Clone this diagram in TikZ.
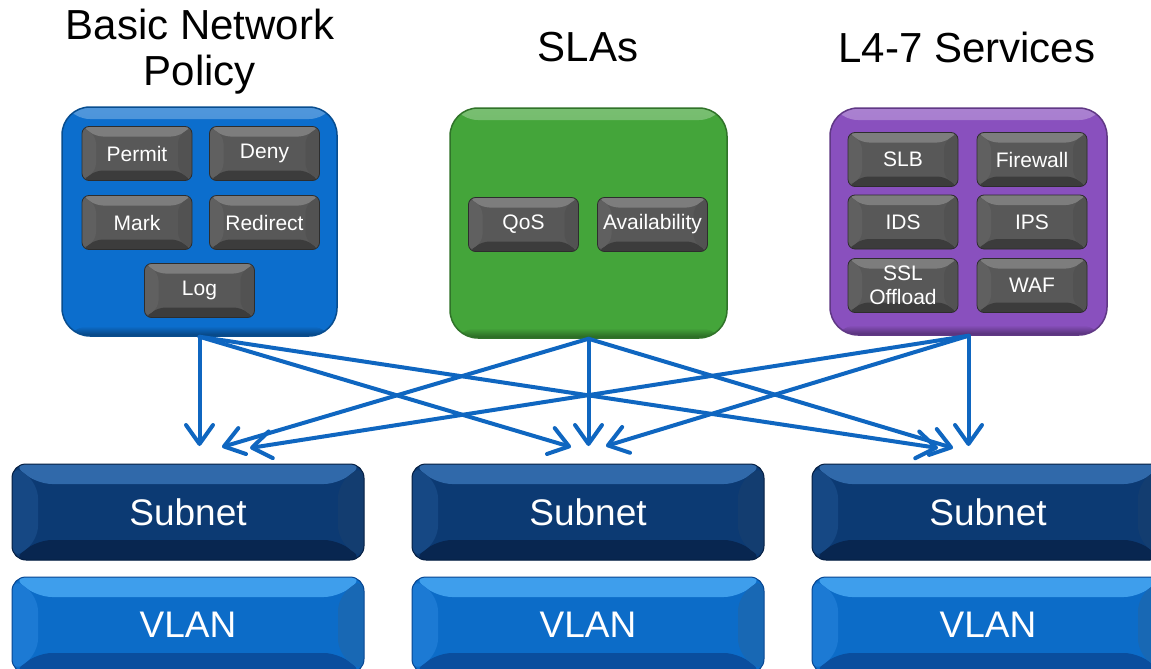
\documentclass[tikz,border=0pt]{standalone}
\usepackage{fontspec}
\setmainfont{Liberation Sans}
\usetikzlibrary{arrows.meta,calc}
\definecolor{bluebox}{RGB}{12,110,205}
\definecolor{greenbox}{RGB}{68,165,58}
\definecolor{purplebox}{RGB}{137,80,190}
\definecolor{btnface}{RGB}{88,88,88}
\definecolor{btntop}{RGB}{125,125,125}
\definecolor{btnbot}{RGB}{60,60,60}
\definecolor{btnside}{RGB}{96,96,96}
\definecolor{btnline}{RGB}{45,45,45}
\definecolor{subface}{RGB}{12,58,115}
\definecolor{subtop}{RGB}{48,105,170}
\definecolor{subbot}{RGB}{8,38,80}
\definecolor{subside}{RGB}{22,72,132}
\definecolor{subline}{RGB}{5,30,65}
\definecolor{vlanface}{RGB}{12,108,200}
\definecolor{vlantop}{RGB}{62,158,236}
\definecolor{vlanbot}{RGB}{10,78,158}
\definecolor{vlanside}{RGB}{28,122,212}
\definecolor{vlanline}{RGB}{8,70,145}
\definecolor{arrowblue}{RGB}{15,102,192}
\tikzset{
  facet/.style n args={6}{fill=#1, path picture={
    \fill[#2] (path picture bounding box.north west) -- (path picture bounding box.north east)
      -- ([shift={(-#5,-#6)}]path picture bounding box.north east)
      -- ([shift={(#5,-#6)}]path picture bounding box.north west) -- cycle;
    \fill[#3] (path picture bounding box.south west) -- (path picture bounding box.south east)
      -- ([shift={(-#5,#6)}]path picture bounding box.south east)
      -- ([shift={(#5,#6)}]path picture bounding box.south west) -- cycle;
    \fill[#4] (path picture bounding box.north west) -- ([shift={(#5,-#6)}]path picture bounding box.north west)
      -- ([shift={(#5,#6)}]path picture bounding box.south west) -- (path picture bounding box.south west) -- cycle;
    \fill[#4!85!black] (path picture bounding box.north east) -- ([shift={(-#5,-#6)}]path picture bounding box.north east)
      -- ([shift={(-#5,#6)}]path picture bounding box.south east) -- (path picture bounding box.south east) -- cycle;
  }},
  btn/.style={facet={btnface}{btntop}{btnbot}{btnside}{14pt}{10pt}, draw=btnline, line width=0.8pt,
    rounded corners=7pt, minimum width=110pt, minimum height=54pt, inner sep=0pt,
    text=white, font=\fontsize{21}{24.5}\selectfont, align=center},
  bar/.style={facet={#1face}{#1top}{#1bot}{#1side}{26pt}{20pt}, draw=#1line, line width=1pt,
    rounded corners=14pt, minimum width=352pt, minimum height=96pt, inner sep=0pt,
    text=white, font=\fontsize{37}{40}\selectfont},
  bigbox/.style={fill=#1, draw=#1!70!black, line width=1.5pt, rounded corners=28pt, inner sep=0pt,
    path picture={
      \shade[top color=#1!72!white, bottom color=#1] (path picture bounding box.north west)
        rectangle ([yshift=-12pt]path picture bounding box.north east);
      \shade[top color=#1, bottom color=#1!60!black] ([yshift=10pt]path picture bounding box.south west)
        rectangle (path picture bounding box.south east);
    }},
  title/.style={font=\fontsize{42}{46}\selectfont, align=center, text=black, inner sep=0pt},
  conn/.style={draw=arrowblue, line width=4pt, line cap=round,
    -{Straight Barb[length=19pt,width=27pt,line width=4pt,round]}}
}
\begin{document}
\begin{tikzpicture}[x=1pt,y=-1pt]
\clip (0,0) rectangle (1151,669);
\fill[white] (0,0) rectangle (1151,669);
% titles
\node[title] (t1) at (200,52) {Basic Network\\Policy};
\node[title] (t2) at (588,47) {SLAs};
\node[title] (t3) at (967,47) {L4-7 Services};
% big boxes
\node[bigbox=bluebox, minimum width=275pt, minimum height=229pt] (bnp) at (199.5,221.5) {};
\node[bigbox=greenbox, minimum width=277pt, minimum height=230pt] (sla) at (588.5,223) {};
\node[bigbox=purplebox, minimum width=277pt, minimum height=227pt] (svc) at (968.5,221.5) {};
% buttons: basic network policy
\node[btn] (permit) at (137,153.5) {Permit};
\node[btn] (deny) at (264.5,153.5) {Deny};
\node[btn] (mark) at (137,222.5) {Mark};
\node[btn] (redirect) at (264.5,222.5) {Redirect};
\node[btn] (log) at (199.5,290.5) {Log};
% buttons: SLAs
\node[btn] (qos) at (523.5,224.5) {QoS};
\node[btn] (avail) at (652.5,224.5) {Availability};
% buttons: L4-7
\node[btn] (slb) at (903,159.5) {SLB};
\node[btn] (fw) at (1032,159.5) {Firewall};
\node[btn] (ids) at (903,222) {IDS};
\node[btn] (ips) at (1032,222) {IPS};
\node[btn] (ssl) at (903,285.5) {SSL\\Offload};
\node[btn] (waf) at (1032,285.5) {WAF};
% subnets and vlans
\node[bar=sub] (s1) at (188,512) {Subnet};
\node[bar=sub] (s2) at (588,512) {Subnet};
\node[bar=sub] (s3) at (988,512) {Subnet};
\node[bar=vlan] (v1) at (188,625) {VLAN};
\node[bar=vlan] (v2) at (588,625) {VLAN};
\node[bar=vlan] (v3) at (988,625) {VLAN};
% arrow end points
\coordinate (lv) at (199.5,446);
\coordinate (lg) at (222,447);
\coordinate (lp) at (250,448);
\coordinate (mb) at (571,447);
\coordinate (mv) at (588.5,446);
\coordinate (mp) at (606,446);
\coordinate (rb) at (938,448);
\coordinate (rg) at (953,448);
\coordinate (rv) at (968.5,446);
% connectors
\draw[conn] (bnp.south) -- (lv);
\draw[conn] (bnp.south) -- (mb);
\draw[conn] (bnp.south) -- (rb);
\draw[conn] (sla.south) -- (lg);
\draw[conn] (sla.south) -- (mv);
\draw[conn] (sla.south) -- (rg);
\draw[conn] (svc.south) -- (lp);
\draw[conn] (svc.south) -- (mp);
\draw[conn] (svc.south) -- (rv);
\end{tikzpicture}
\end{document}
